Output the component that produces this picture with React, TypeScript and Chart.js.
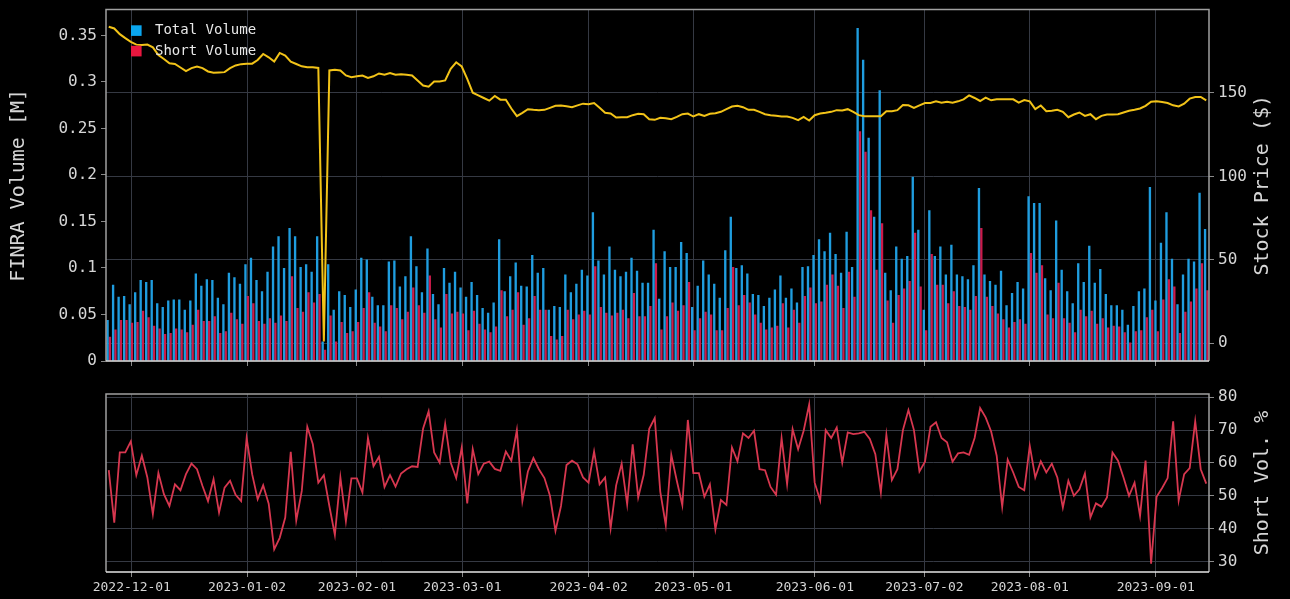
import React, { useEffect, useRef } from "react";
import { Chart, registerables } from "chart.js";

Chart.register(...registerables);

// ---------- data ----------
const tickLabels = [
  "2022-12-01", "2023-01-02", "2023-02-01", "2023-03-01", "2023-04-02",
  "2023-05-01", "2023-06-01", "2023-07-02", "2023-08-01", "2023-09-01",
];
// positions of the date ticks on the trading-day index axis
const tickPositions = [4.18, 25.07, 45.0, 64.12, 87.02, 105.96, 128.03, 147.9, 167.0, 189.85];

const volumeTicks = [0, 0.05, 0.1, 0.15, 0.2, 0.25, 0.3, 0.35];
const priceTicks = [0, 50, 100, 150];
const pctTicks = [30, 40, 50, 60, 70, 80];

const totalVolume = [
  0.044, 0.082, 0.069, 0.070, 0.061, 0.074, 0.087, 0.085, 0.087, 0.062,
  0.058, 0.065, 0.066, 0.066, 0.055, 0.065, 0.094, 0.081, 0.088, 0.087,
  0.068, 0.061, 0.095, 0.090, 0.083, 0.104, 0.111, 0.087, 0.075, 0.096,
  0.123, 0.134, 0.100, 0.143, 0.134, 0.101, 0.104, 0.096, 0.134, 0.021,
  0.104, 0.055, 0.075, 0.071, 0.058, 0.077, 0.111, 0.109, 0.069, 0.060,
  0.060, 0.107, 0.108, 0.080, 0.091, 0.134, 0.102, 0.074, 0.121, 0.072,
  0.061, 0.100, 0.084, 0.096, 0.079, 0.069, 0.085, 0.071, 0.057, 0.052,
  0.063, 0.131, 0.075, 0.091, 0.106, 0.081, 0.080, 0.114, 0.095, 0.100,
  0.055, 0.059, 0.058, 0.093, 0.074, 0.083, 0.098, 0.092, 0.160, 0.108,
  0.093, 0.123, 0.098, 0.091, 0.096, 0.111, 0.097, 0.084, 0.084, 0.141,
  0.067, 0.118, 0.101, 0.101, 0.128, 0.116, 0.058, 0.081, 0.108, 0.093,
  0.083, 0.068, 0.119, 0.155, 0.100, 0.103, 0.094, 0.072, 0.071, 0.059,
  0.068, 0.077, 0.092, 0.068, 0.078, 0.063, 0.101, 0.102, 0.114, 0.131,
  0.118, 0.138, 0.115, 0.095, 0.139, 0.101, 0.358, 0.324, 0.240, 0.155,
  0.291, 0.095, 0.076, 0.123, 0.110, 0.113, 0.198, 0.141, 0.055, 0.162,
  0.113, 0.123, 0.093, 0.125, 0.093, 0.091, 0.088, 0.103, 0.186, 0.093,
  0.086, 0.082, 0.097, 0.060, 0.073, 0.085, 0.078, 0.177, 0.170, 0.170,
  0.089, 0.076, 0.151, 0.098, 0.075, 0.062, 0.105, 0.085, 0.124, 0.084,
  0.099, 0.072, 0.060, 0.060, 0.055, 0.039, 0.059, 0.075, 0.078, 0.187,
  0.065, 0.127, 0.160, 0.110, 0.061, 0.093, 0.110, 0.107, 0.181, 0.142,
];

const shortVolume = [
  0.026, 0.034, 0.044, 0.044, 0.041, 0.042, 0.054, 0.047, 0.038, 0.035,
  0.029, 0.030, 0.035, 0.034, 0.031, 0.039, 0.055, 0.043, 0.043, 0.048,
  0.030, 0.032, 0.052, 0.045, 0.040, 0.070, 0.062, 0.043, 0.040, 0.046,
  0.041, 0.049, 0.043, 0.091, 0.057, 0.053, 0.074, 0.063, 0.072, 0.012,
  0.049, 0.021, 0.042, 0.030, 0.032, 0.042, 0.057, 0.074, 0.041, 0.037,
  0.032, 0.060, 0.057, 0.045, 0.053, 0.079, 0.060, 0.052, 0.092, 0.045,
  0.036, 0.072, 0.051, 0.053, 0.051, 0.033, 0.054, 0.040, 0.034, 0.031,
  0.037, 0.076, 0.048, 0.055, 0.074, 0.039, 0.046, 0.070, 0.055, 0.055,
  0.027, 0.023, 0.027, 0.055, 0.045, 0.050, 0.054, 0.050, 0.102, 0.058,
  0.052, 0.049, 0.052, 0.055, 0.046, 0.073, 0.048, 0.048, 0.059, 0.105,
  0.034, 0.048, 0.063, 0.054, 0.060, 0.085, 0.033, 0.046, 0.053, 0.050,
  0.033, 0.033, 0.057, 0.101, 0.060, 0.071, 0.063, 0.050, 0.041, 0.034,
  0.036, 0.038, 0.062, 0.036, 0.055, 0.041, 0.070, 0.079, 0.062, 0.064,
  0.082, 0.093, 0.081, 0.057, 0.096, 0.069, 0.247, 0.225, 0.162, 0.098,
  0.148, 0.065, 0.041, 0.071, 0.078, 0.086, 0.138, 0.080, 0.033, 0.115,
  0.082, 0.082, 0.062, 0.075, 0.059, 0.058, 0.055, 0.070, 0.143, 0.069,
  0.059, 0.051, 0.045, 0.036, 0.042, 0.045, 0.040, 0.116, 0.095, 0.103,
  0.050, 0.046, 0.084, 0.046, 0.041, 0.031, 0.055, 0.048, 0.054, 0.040,
  0.046, 0.036, 0.038, 0.037, 0.031, 0.020, 0.032, 0.033, 0.047, 0.055,
  0.032, 0.066, 0.088, 0.080, 0.030, 0.053, 0.064, 0.078, 0.105, 0.076,
];

const stockPrice = [
  189.7, 188.7, 185.3, 182.9, 180.7, 179.0, 178.8, 179.0, 177.4, 172.8,
  170.4, 167.8, 167.4, 165.3, 163.1, 164.9, 165.9, 164.9, 162.9, 162.1,
  162.3, 162.5, 164.9, 166.5, 167.3, 167.6, 167.6, 169.8, 173.4, 171.4,
  168.8, 174.0, 172.4, 168.8, 167.4, 166.0, 165.5, 165.5, 165.0, 1.0,
  163.5, 164.0, 163.5, 160.5, 159.5, 160.0, 160.5, 159.0, 160.0, 161.7,
  161.0, 162.0, 160.9, 161.3, 161.0, 160.5, 157.5, 154.5, 153.8, 156.9,
  156.9, 157.5, 164.5, 168.4, 165.9, 158.5, 150.2, 148.6, 147.0, 145.4,
  148.2, 146.0, 146.0, 140.7, 136.1, 138.1, 140.3, 139.9, 139.7, 139.9,
  141.1, 142.3, 142.5, 142.1, 141.5, 142.6, 143.6, 143.2, 144.0, 141.1,
  138.1, 137.7, 135.3, 135.5, 135.5, 136.7, 137.5, 137.3, 134.3, 133.9,
  135.1, 134.9, 134.3, 135.7, 137.3, 137.7, 135.9, 137.3, 136.3, 137.5,
  137.9, 138.7, 140.3, 141.9, 142.3, 141.5, 139.9, 139.9, 138.7, 137.3,
  136.7, 136.3, 135.9, 135.9, 135.1, 133.7, 135.7, 133.5, 136.7, 137.7,
  138.1, 138.7, 139.7, 139.5, 140.3, 138.7, 136.7, 136.1, 136.1, 136.1,
  136.1, 139.1, 139.1, 139.7, 142.8, 142.6, 141.1, 142.6, 144.0, 144.0,
  145.0, 144.2, 144.8, 144.2, 145.0, 146.2, 148.6, 147.0, 145.2, 147.2,
  145.6, 146.2, 146.2, 146.2, 146.2, 144.2, 145.8, 145.0, 140.3, 142.5,
  139.1, 139.3, 139.9, 138.7, 135.5, 137.1, 138.3, 136.3, 137.3, 134.3,
  136.3, 137.1, 137.1, 137.3, 138.3, 139.3, 139.9, 140.7, 142.3, 144.8,
  145.0, 144.6, 144.0, 142.6, 141.9, 143.6, 146.6, 147.6, 147.6, 145.6,
];

const shortPct = [
  57.8, 41.8, 63.2, 63.2, 66.6, 56.3, 62.3, 55.6, 44.4, 57.0,
  50.5, 46.9, 53.5, 51.7, 56.6, 59.8, 58.1, 53.0, 48.4, 55.1,
  44.9, 52.5, 54.6, 50.3, 48.4, 67.6, 56.6, 49.0, 53.2, 47.6,
  33.7, 37.2, 43.4, 63.4, 42.5, 51.5, 71.0, 65.7, 54.0, 56.3,
  46.9, 38.1, 55.6, 42.3, 55.3, 55.3, 51.0, 67.6, 59.0, 61.9,
  52.7, 56.3, 52.8, 56.8, 58.1, 59.0, 58.8, 70.5, 75.7, 63.2,
  60.1, 71.9, 60.1, 55.4, 64.7, 47.7, 64.2, 56.6, 59.8, 60.4,
  58.2, 57.6, 63.5, 60.7, 70.0, 48.4, 57.4, 61.5, 58.1, 55.4,
  50.0, 39.3, 46.9, 59.4, 60.7, 59.6, 55.6, 54.0, 63.5, 53.5,
  55.6, 40.1, 53.2, 59.8, 47.4, 65.7, 49.5, 56.4, 70.4, 73.7,
  51.3, 41.1, 62.5, 54.6, 47.2, 73.1, 56.9, 56.9, 49.7, 53.5,
  39.8, 48.7, 47.2, 64.7, 60.5, 69.0, 67.6, 69.8, 58.1, 57.8,
  52.7, 50.3, 67.6, 53.5, 70.3, 64.2, 69.8, 77.8, 54.0, 48.6,
  70.0, 67.6, 70.8, 60.1, 69.3, 68.8, 69.0, 69.5, 67.3, 62.7,
  51.0, 68.6, 54.8, 58.1, 70.0, 76.1, 70.0, 57.4, 60.4, 71.0,
  72.4, 67.6, 66.3, 60.4, 62.9, 63.2, 62.5, 67.6, 76.7, 73.9,
  69.6, 62.2, 46.6, 61.0, 57.1, 52.7, 51.7, 65.2, 55.6, 60.5,
  57.1, 59.8, 55.6, 46.4, 54.6, 50.0, 52.0, 56.8, 43.4, 47.7,
  46.7, 49.5, 63.2, 60.7, 55.6, 50.0, 54.0, 43.9, 60.7, 29.3,
  49.7, 52.4, 55.4, 72.7, 48.6, 56.6, 58.4, 72.7, 58.1, 53.7,
];

// ---------- styles ----------
const FONT = "'DejaVu Sans Mono', 'Liberation Mono', monospace";
const TEXT = "#d6d6d6";
const GRID = "#353943";
const TICK = "#8a8a8a";
const BLUE = "#1f9ddf";
const RED = "#cc1a4a";
const LEGEND_BLUE = "#0aa6ef";
const LEGEND_RED = "#e8173f";
const GOLD = "#f2c318";
const PCT_RED = "#d7374f";

const W = 1290;
const TOP_H = 380;
const BOT_H = 219;

const frame = {
  id: "frame",
  afterDraw(chart: any) {
    const { ctx, chartArea: a } = chart;
    ctx.save();
    ctx.lineWidth = 1.5;
    ctx.strokeStyle = "#a0a0a0";
    ctx.beginPath();
    ctx.moveTo(a.left, a.bottom);
    ctx.lineTo(a.left, a.top);
    ctx.lineTo(a.right, a.top);
    ctx.lineTo(a.right, a.bottom);
    ctx.stroke();
    ctx.strokeStyle = "#e6e6e6";
    ctx.beginPath();
    ctx.moveTo(a.left, a.bottom);
    ctx.lineTo(a.right, a.bottom);
    ctx.stroke();
    ctx.restore();
  },
};

const insideLegend = {
  id: "insideLegend",
  afterDraw(chart: any) {
    const { ctx, chartArea: a } = chart;
    const items = [
      { text: "Total Volume", color: LEGEND_BLUE },
      { text: "Short Volume", color: LEGEND_RED },
    ];
    ctx.save();
    ctx.font = `14px ${FONT}`;
    ctx.textBaseline = "middle";
    ctx.textAlign = "left";
    items.forEach((it, k) => {
      const cy = a.top + 21 + k * 20.5;
      ctx.fillStyle = it.color;
      ctx.fillRect(a.left + 25, cy - 5.3, 10.6, 10.6);
      ctx.fillStyle = "#e8e8e8";
      ctx.fillText(it.text, a.left + 49, cy);
    });
    ctx.restore();
  },
};

// right-hand axis titles read bottom-to-top, as in the reference
function rightTitle(axisId: string, text: string) {
  return {
    id: "rightTitle_" + axisId,
    afterDraw(chart: any) {
      const s = chart.scales[axisId];
      if (!s) return;
      const { ctx } = chart;
      ctx.save();
      ctx.font = `20px ${FONT}`;
      ctx.fillStyle = TEXT;
      ctx.textAlign = "center";
      ctx.textBaseline = "middle";
      ctx.translate(s.right - 27, (s.top + s.bottom) / 2);
      ctx.rotate(-Math.PI / 2);
      ctx.fillText(text, 0, 0);
      ctx.restore();
    },
  };
}

function xScale(showLabels: boolean, height: number) {
  return {
    type: "linear",
    min: -0.5,
    max: totalVolume.length - 0.5,
    offset: false,
    afterBuildTicks: (s: any) => {
      s.ticks = tickPositions.map((v) => ({ value: v }));
    },
    afterFit: (s: any) => {
      s.height = height;
    },
    ticks: {
      display: showLabels,
      autoSkip: false,
      maxRotation: 0,
      minRotation: 0,
      padding: 3,
      color: TEXT,
      font: { family: FONT, size: 13 },
      callback: (_v: any, i: number) => tickLabels[i],
    },
    grid: {
      offset: false,
      color: GRID,
      lineWidth: 1,
      drawTicks: true,
      tickLength: 5,
      tickColor: TICK,
    },
    border: { display: false },
  };
}

function yScale(opts: {
  position: string;
  min: number;
  max: number;
  ticks: number[];
  width: number;
  title: string | null;
  titlePad: number;
  onArea: boolean;
}) {
  return {
    type: "linear",
    position: opts.position,
    min: opts.min,
    max: opts.max,
    afterBuildTicks: (s: any) => {
      s.ticks = opts.ticks.map((v) => ({ value: v }));
    },
    afterFit: (s: any) => {
      s.width = opts.width;
    },
    ticks: {
      padding: 4,
      color: TEXT,
      font: { family: FONT, size: 16, lineHeight: 0.7 },
      callback: (v: any) => String(v),
    },
    grid: {
      drawOnChartArea: opts.onArea,
      color: GRID,
      lineWidth: 1,
      drawTicks: true,
      tickLength: 5,
      tickColor: TICK,
    },
    border: { display: false },
    title: {
      display: !!opts.title,
      text: opts.title || "",
      color: TEXT,
      font: { family: FONT, size: 20 },
      padding: { top: opts.titlePad, bottom: 0 },
    },
  };
}

export default function App() {
  const topRef = useRef<HTMLCanvasElement | null>(null);
  const botRef = useRef<HTMLCanvasElement | null>(null);

  useEffect(() => {
    if (!topRef.current || !botRef.current) return;
    const pts = (arr: number[]) => arr.map((v, i) => ({ x: i, y: v }));

    const top = new Chart(topRef.current, {
      type: "bar",
      data: {
        datasets: [
          {
            type: "bar",
            label: "Total Volume",
            data: pts(totalVolume),
            backgroundColor: BLUE,
            yAxisID: "y",
            xAxisID: "x",
            categoryPercentage: 0.85,
            barPercentage: 1,
            order: 2,
          },
          {
            type: "bar",
            label: "Short Volume",
            data: pts(shortVolume),
            backgroundColor: RED,
            yAxisID: "y",
            xAxisID: "x",
            categoryPercentage: 0.85,
            barPercentage: 1,
            order: 2,
          },
          {
            type: "line",
            label: "Stock Price",
            data: pts(stockPrice),
            borderColor: GOLD,
            borderWidth: 2,
            pointRadius: 0,
            tension: 0,
            yAxisID: "y1",
            xAxisID: "x",
            order: 1,
          },
        ],
      } as any,
      options: {
        responsive: false,
        maintainAspectRatio: false,
        animation: false,
        events: [],
        layout: { autoPadding: false, padding: { left: 0, right: 0, top: 7, bottom: 0 } },
        plugins: { legend: { display: false }, tooltip: { enabled: false } },
        scales: {
          x: xScale(false, TOP_H - 361),
          y: yScale({
            position: "left",
            min: 0,
            max: 0.3778,
            ticks: volumeTicks,
            width: 106,
            title: "FINRA Volume [M]",
            titlePad: 7,
            onArea: false,
          }),
          y1: yScale({
            position: "right",
            min: -10.7,
            max: 200,
            ticks: priceTicks,
            width: W - 1209,
            title: null,
            titlePad: 0,
            onArea: true,
          }),
        },
      } as any,
      plugins: [frame, insideLegend, rightTitle("y1", "Stock Price ($)")],
    });

    const bot = new Chart(botRef.current, {
      type: "line",
      data: {
        datasets: [
          {
            label: "Short Vol. %",
            data: pts(shortPct),
            borderColor: PCT_RED,
            borderWidth: 1.8,
            pointRadius: 0,
            tension: 0,
            yAxisID: "y",
            xAxisID: "x",
          },
        ],
      } as any,
      options: {
        responsive: false,
        maintainAspectRatio: false,
        animation: false,
        events: [],
        layout: { autoPadding: false, padding: { left: 106, right: 0, top: 14, bottom: 0 } },
        plugins: { legend: { display: false }, tooltip: { enabled: false } },
        scales: {
          x: xScale(true, 27),
          y: yScale({
            position: "right",
            min: 26.8,
            max: 81,
            ticks: pctTicks,
            width: W - 1209,
            title: null,
            titlePad: 0,
            onArea: true,
          }),
        },
      } as any,
      plugins: [frame, rightTitle("y", "Short Vol. %")],
    });

    return () => {
      top.destroy();
      bot.destroy();
    };
  }, []);

  return (
    <div
      style={{
        position: "absolute",
        left: 0,
        top: 0,
        width: W,
        height: TOP_H + BOT_H,
        background: "#000",
        overflow: "hidden",
      }}
    >
      <canvas
        ref={topRef}
        width={W}
        height={TOP_H}
        style={{ position: "absolute", left: 0, top: 0, width: W, height: TOP_H }}
      />
      <canvas
        ref={botRef}
        width={W}
        height={BOT_H}
        style={{ position: "absolute", left: 0, top: TOP_H, width: W, height: BOT_H }}
      />
    </div>
  );
}
